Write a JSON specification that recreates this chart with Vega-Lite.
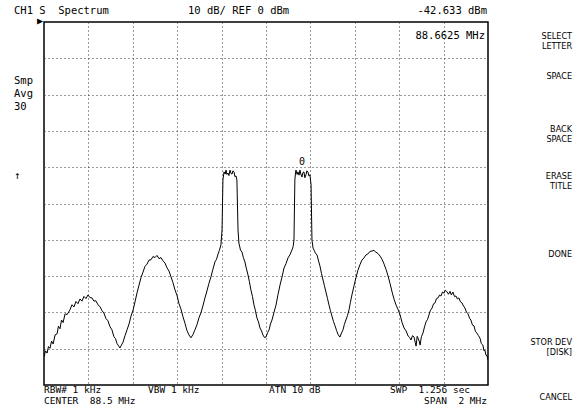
{
  "$schema": "https://vega.github.io/schema/vega-lite/v6.json",
  "width": 444,
  "height": 363,
  "autosize": "none",
  "padding": {"left": 44, "top": 22, "right": 91, "bottom": 29},
  "background": "#ffffff",
  "config": {
    "view": {"stroke": "#000000", "strokeWidth": 1.5},
    "axis": {"labels": false, "ticks": false, "domain": false, "title": null, "grid": true, "gridColor": "#333333", "gridDash": [1, 3], "gridWidth": 1, "gridOpacity": 1}
  },
  "datasets": {
    "trace": [
      {"f": 87.5, "dbm": -92.3}, {"f": 87.507, "dbm": -90.6}, {"f": 87.514, "dbm": -91.2}, {"f": 87.52, "dbm": -89.4}, {"f": 87.527, "dbm": -89.9}, {"f": 87.534, "dbm": -87.9}, {"f": 87.541, "dbm": -88.7},
      {"f": 87.55, "dbm": -86.2}, {"f": 87.559, "dbm": -85.9}, {"f": 87.565, "dbm": -83.8}, {"f": 87.572, "dbm": -84.5}, {"f": 87.579, "dbm": -82.1}, {"f": 87.586, "dbm": -82.8}, {"f": 87.595, "dbm": -80.4}, {"f": 87.604, "dbm": -80.6},
      {"f": 87.617, "dbm": -79.3}, {"f": 87.626, "dbm": -77.9}, {"f": 87.635, "dbm": -78.5}, {"f": 87.644, "dbm": -77.0}, {"f": 87.653, "dbm": -77.6}, {"f": 87.662, "dbm": -76.3}, {"f": 87.671, "dbm": -76.9},
      {"f": 87.68, "dbm": -75.6}, {"f": 87.689, "dbm": -76.2}, {"f": 87.698, "dbm": -75.2}, {"f": 87.707, "dbm": -75.9}, {"f": 87.716, "dbm": -76.0}, {"f": 87.725, "dbm": -76.9}, {"f": 87.734, "dbm": -76.8}, {"f": 87.743, "dbm": -77.9},
      {"f": 87.752, "dbm": -78.4}, {"f": 87.761, "dbm": -79.5}, {"f": 87.77, "dbm": -80.2}, {"f": 87.779, "dbm": -81.7}, {"f": 87.788, "dbm": -82.3}, {"f": 87.797, "dbm": -83.9}, {"f": 87.806, "dbm": -84.8}, {"f": 87.815, "dbm": -86.7},
      {"f": 87.822, "dbm": -87.2}, {"f": 87.829, "dbm": -88.6}, {"f": 87.836, "dbm": -89.2}, {"f": 87.842, "dbm": -89.8}, {"f": 87.849, "dbm": -89.0}, {"f": 87.856, "dbm": -88.2}, {"f": 87.865, "dbm": -86.4}, {"f": 87.874, "dbm": -84.8},
      {"f": 87.883, "dbm": -83.2}, {"f": 87.892, "dbm": -81.0}, {"f": 87.901, "dbm": -79.4}, {"f": 87.91, "dbm": -77.1}, {"f": 87.919, "dbm": -74.6}, {"f": 87.928, "dbm": -72.5}, {"f": 87.937, "dbm": -70.4}, {"f": 87.946, "dbm": -68.9},
      {"f": 87.955, "dbm": -67.3}, {"f": 87.964, "dbm": -66.7}, {"f": 87.973, "dbm": -65.6}, {"f": 87.982, "dbm": -65.5}, {"f": 87.991, "dbm": -64.6}, {"f": 88.0, "dbm": -64.9}, {"f": 88.009, "dbm": -64.3}, {"f": 88.018, "dbm": -65.2},
      {"f": 88.027, "dbm": -64.9}, {"f": 88.036, "dbm": -65.8}, {"f": 88.045, "dbm": -66.4}, {"f": 88.054, "dbm": -67.7}, {"f": 88.063, "dbm": -68.6}, {"f": 88.072, "dbm": -70.2}, {"f": 88.081, "dbm": -71.8}, {"f": 88.09, "dbm": -73.8},
      {"f": 88.099, "dbm": -75.3}, {"f": 88.108, "dbm": -77.6}, {"f": 88.117, "dbm": -79.1}, {"f": 88.126, "dbm": -81.2}, {"f": 88.135, "dbm": -83.0}, {"f": 88.144, "dbm": -85.0}, {"f": 88.153, "dbm": -86.2}, {"f": 88.162, "dbm": -87.0},
      {"f": 88.171, "dbm": -86.1}, {"f": 88.18, "dbm": -84.8}, {"f": 88.189, "dbm": -83.4}, {"f": 88.198, "dbm": -81.5}, {"f": 88.207, "dbm": -80.1}, {"f": 88.216, "dbm": -78.2}, {"f": 88.225, "dbm": -76.0}, {"f": 88.234, "dbm": -74.1},
      {"f": 88.243, "dbm": -72.0}, {"f": 88.252, "dbm": -70.2}, {"f": 88.261, "dbm": -68.1}, {"f": 88.27, "dbm": -66.1}, {"f": 88.277, "dbm": -65.4}, {"f": 88.284, "dbm": -63.9}, {"f": 88.29, "dbm": -62.9}, {"f": 88.297, "dbm": -61.4},
      {"f": 88.302, "dbm": -57.3}, {"f": 88.306, "dbm": -43.5}, {"f": 88.309, "dbm": -42.1}, {"f": 88.311, "dbm": -41.3}, {"f": 88.316, "dbm": -41.9}, {"f": 88.32, "dbm": -40.8}, {"f": 88.324, "dbm": -42.0},
      {"f": 88.329, "dbm": -41.6}, {"f": 88.333, "dbm": -42.3}, {"f": 88.338, "dbm": -40.8}, {"f": 88.342, "dbm": -41.7}, {"f": 88.347, "dbm": -41.9}, {"f": 88.351, "dbm": -41.0}, {"f": 88.356, "dbm": -41.3}, {"f": 88.36, "dbm": -42.6},
      {"f": 88.365, "dbm": -42.4}, {"f": 88.369, "dbm": -43.5}, {"f": 88.374, "dbm": -57.3}, {"f": 88.378, "dbm": -60.9}, {"f": 88.385, "dbm": -62.8},
      {"f": 88.392, "dbm": -63.4}, {"f": 88.398, "dbm": -64.9}, {"f": 88.405, "dbm": -66.1}, {"f": 88.412, "dbm": -68.0}, {"f": 88.419, "dbm": -69.7}, {"f": 88.425, "dbm": -71.5}, {"f": 88.432, "dbm": -73.8}, {"f": 88.439, "dbm": -75.6},
      {"f": 88.446, "dbm": -78.0}, {"f": 88.452, "dbm": -79.4}, {"f": 88.459, "dbm": -81.5}, {"f": 88.466, "dbm": -82.6}, {"f": 88.473, "dbm": -84.3}, {"f": 88.48, "dbm": -85.1}, {"f": 88.486, "dbm": -86.2}, {"f": 88.493, "dbm": -86.9},
      {"f": 88.5, "dbm": -86.8}, {"f": 88.507, "dbm": -85.6}, {"f": 88.514, "dbm": -84.8}, {"f": 88.52, "dbm": -83.2}, {"f": 88.527, "dbm": -82.1}, {"f": 88.536, "dbm": -80.0}, {"f": 88.545, "dbm": -78.0}, {"f": 88.554, "dbm": -75.1},
      {"f": 88.563, "dbm": -72.5}, {"f": 88.572, "dbm": -70.3}, {"f": 88.581, "dbm": -67.8}, {"f": 88.59, "dbm": -66.6}, {"f": 88.599, "dbm": -65.0}, {"f": 88.608, "dbm": -64.1}, {"f": 88.617, "dbm": -62.8}, {"f": 88.622, "dbm": -61.9},
      {"f": 88.626, "dbm": -60.1}, {"f": 88.63, "dbm": -43.5}, {"f": 88.633, "dbm": -41.6}, {"f": 88.635, "dbm": -40.8}, {"f": 88.64, "dbm": -42.0}, {"f": 88.644, "dbm": -41.3}, {"f": 88.649, "dbm": -42.2},
      {"f": 88.653, "dbm": -40.8}, {"f": 88.657, "dbm": -41.9}, {"f": 88.662, "dbm": -42.7}, {"f": 88.666, "dbm": -41.5}, {"f": 88.671, "dbm": -41.3}, {"f": 88.675, "dbm": -42.9}, {"f": 88.68, "dbm": -42.1}, {"f": 88.684, "dbm": -41.0},
      {"f": 88.689, "dbm": -41.3}, {"f": 88.693, "dbm": -42.4}, {"f": 88.698, "dbm": -42.1}, {"f": 88.703, "dbm": -44.9}, {"f": 88.707, "dbm": -60.1},
      {"f": 88.712, "dbm": -62.3}, {"f": 88.717, "dbm": -62.9}, {"f": 88.722, "dbm": -63.6}, {"f": 88.73, "dbm": -64.2}, {"f": 88.737, "dbm": -65.9}, {"f": 88.743, "dbm": -67.2}, {"f": 88.75, "dbm": -69.3}, {"f": 88.757, "dbm": -71.1},
      {"f": 88.763, "dbm": -72.6}, {"f": 88.77, "dbm": -74.4}, {"f": 88.777, "dbm": -76.2}, {"f": 88.784, "dbm": -78.0}, {"f": 88.79, "dbm": -79.5}, {"f": 88.797, "dbm": -81.0}, {"f": 88.804, "dbm": -82.5}, {"f": 88.811, "dbm": -83.7},
      {"f": 88.818, "dbm": -85.0}, {"f": 88.824, "dbm": -86.0}, {"f": 88.829, "dbm": -86.5}, {"f": 88.833, "dbm": -86.8}, {"f": 88.84, "dbm": -85.7}, {"f": 88.847, "dbm": -84.8}, {"f": 88.853, "dbm": -83.3}, {"f": 88.86, "dbm": -82.1},
      {"f": 88.867, "dbm": -80.9}, {"f": 88.874, "dbm": -79.3}, {"f": 88.88, "dbm": -77.3}, {"f": 88.887, "dbm": -75.2}, {"f": 88.896, "dbm": -72.8}, {"f": 88.905, "dbm": -70.5}, {"f": 88.914, "dbm": -68.4}, {"f": 88.923, "dbm": -66.9},
      {"f": 88.932, "dbm": -65.6}, {"f": 88.941, "dbm": -65.0}, {"f": 88.95, "dbm": -64.2}, {"f": 88.959, "dbm": -63.9}, {"f": 88.968, "dbm": -63.2}, {"f": 88.977, "dbm": -63.1}, {"f": 88.986, "dbm": -62.9}, {"f": 88.995, "dbm": -63.4},
      {"f": 89.005, "dbm": -63.8}, {"f": 89.014, "dbm": -64.5}, {"f": 89.023, "dbm": -65.4}, {"f": 89.032, "dbm": -66.7}, {"f": 89.041, "dbm": -68.2}, {"f": 89.05, "dbm": -70.0}, {"f": 89.059, "dbm": -72.1}, {"f": 89.068, "dbm": -74.4},
      {"f": 89.077, "dbm": -76.4}, {"f": 89.086, "dbm": -78.0}, {"f": 89.095, "dbm": -79.2}, {"f": 89.104, "dbm": -80.7}, {"f": 89.113, "dbm": -82.8}, {"f": 89.122, "dbm": -84.3}, {"f": 89.131, "dbm": -85.1}, {"f": 89.14, "dbm": -86.5},
      {"f": 89.147, "dbm": -86.9}, {"f": 89.153, "dbm": -87.6}, {"f": 89.16, "dbm": -86.4}, {"f": 89.167, "dbm": -86.8}, {"f": 89.172, "dbm": -88.2}, {"f": 89.176, "dbm": -89.3}, {"f": 89.181, "dbm": -86.6}, {"f": 89.185, "dbm": -87.1},
      {"f": 89.19, "dbm": -87.9}, {"f": 89.194, "dbm": -89.0}, {"f": 89.2, "dbm": -86.7}, {"f": 89.207, "dbm": -85.7}, {"f": 89.214, "dbm": -84.0}, {"f": 89.221, "dbm": -82.6}, {"f": 89.228, "dbm": -81.9}, {"f": 89.234, "dbm": -80.7},
      {"f": 89.241, "dbm": -79.4}, {"f": 89.248, "dbm": -78.8}, {"f": 89.255, "dbm": -77.6}, {"f": 89.261, "dbm": -77.4}, {"f": 89.268, "dbm": -76.2}, {"f": 89.275, "dbm": -76.0}, {"f": 89.282, "dbm": -75.2}, {"f": 89.288, "dbm": -75.5},
      {"f": 89.295, "dbm": -74.4}, {"f": 89.302, "dbm": -74.7}, {"f": 89.308, "dbm": -73.9}, {"f": 89.315, "dbm": -74.3}, {"f": 89.322, "dbm": -75.0}, {"f": 89.329, "dbm": -74.2}, {"f": 89.335, "dbm": -75.2}, {"f": 89.342, "dbm": -74.4},
      {"f": 89.349, "dbm": -75.6}, {"f": 89.356, "dbm": -75.5}, {"f": 89.362, "dbm": -76.3}, {"f": 89.369, "dbm": -76.0}, {"f": 89.376, "dbm": -77.1}, {"f": 89.383, "dbm": -77.4}, {"f": 89.39, "dbm": -78.3}, {"f": 89.396, "dbm": -78.8},
      {"f": 89.403, "dbm": -79.9}, {"f": 89.41, "dbm": -80.4}, {"f": 89.417, "dbm": -81.6}, {"f": 89.423, "dbm": -82.1}, {"f": 89.43, "dbm": -83.5}, {"f": 89.437, "dbm": -83.7}, {"f": 89.443, "dbm": -85.2}, {"f": 89.45, "dbm": -85.7},
      {"f": 89.457, "dbm": -86.4}, {"f": 89.464, "dbm": -87.1}, {"f": 89.47, "dbm": -88.6}, {"f": 89.477, "dbm": -89.0}, {"f": 89.482, "dbm": -90.6}, {"f": 89.486, "dbm": -90.4}, {"f": 89.491, "dbm": -91.8}, {"f": 89.496, "dbm": -92.0},
      {"f": 89.5, "dbm": -93.1}
    ],
    "leftText": [
      {"t": "CH1 S\u00a0\u00a0Spectrum", "f": 87.3649, "dbm": 3.0},
      {"t": "10 dB/ REF 0 dBm", "f": 88.1486, "dbm": 3.0},
      {"t": "Smp", "f": 87.3649, "dbm": -16.25},
      {"t": "Avg", "f": 87.3649, "dbm": -19.83},
      {"t": "30", "f": 87.3649, "dbm": -23.42},
      {"t": "↑", "f": 87.3649, "dbm": -42.42}
    ],
    "bottomLeft": [
      {"t": "RBW# 1 kHz", "f": 87.5, "dbm": -101.3},
      {"t": "VBW 1 kHz", "f": 87.9685, "dbm": -101.3},
      {"t": "ATN 10 dB", "f": 88.5135, "dbm": -101.3},
      {"t": "SWP\u00a0\u00a01.256 sec", "f": 89.0586, "dbm": -101.3},
      {"t": "CENTER\u00a0\u00a088.5 MHz", "f": 87.5, "dbm": -104.5}
    ],
    "rightText": [
      {"t": "-42.633 dBm", "f": 89.4955, "dbm": 3.0},
      {"t": "88.6625 MHz", "f": 89.4865, "dbm": -3.86}
    ],
    "bottomRight": [
      {"t": "SPAN\u00a0\u00a02 MHz", "f": 89.4955, "dbm": -104.5}
    ],
    "centerText": [
      {"t": "0", "f": 88.6625, "dbm": -38.6},
      {"t": "▶", "f": 87.482, "dbm": 0.3}
    ],
    "softkeys": [
      {"t": "SELECT\nLETTER", "f": 89.8784, "dbm": -3.86},
      {"t": "SPACE", "f": 89.8784, "dbm": -14.88},
      {"t": "BACK\nSPACE", "f": 89.8784, "dbm": -29.48},
      {"t": "ERASE\nTITLE", "f": 89.8784, "dbm": -42.42},
      {"t": "DONE", "f": 89.8784, "dbm": -63.91},
      {"t": "STOR DEV\n[DISK]", "f": 89.8784, "dbm": -88.15},
      {"t": "CANCEL", "f": 89.8784, "dbm": -103.31}
    ]
  },
  "layer": [
    {
      "data": {"name": "trace"},
      "mark": {"type": "line", "color": "#000000", "strokeWidth": 1, "clip": true},
      "encoding": {
        "x": {"field": "f", "type": "quantitative", "scale": {"domain": [87.5, 89.5], "nice": false, "zero": false}, "axis": {"values": [87.7, 87.9, 88.1, 88.3, 88.5, 88.7, 88.9, 89.1, 89.3]}},
        "y": {"field": "dbm", "type": "quantitative", "scale": {"domain": [-100, 0], "nice": false, "zero": false}, "axis": {"values": [-10, -20, -30, -40, -50, -60, -70, -80, -90]}}
      }
    },
    {
      "data": {"name": "leftText"},
      "mark": {"type": "text", "align": "left", "baseline": "middle", "font": "DejaVu Sans Mono", "fontSize": 10.5, "color": "#000000"},
      "encoding": {
        "x": {"field": "f", "type": "quantitative"},
        "y": {"field": "dbm", "type": "quantitative"},
        "text": {"field": "t"}
      }
    },
    {
      "data": {"name": "bottomLeft"},
      "mark": {"type": "text", "align": "left", "baseline": "middle", "font": "DejaVu Sans Mono", "fontSize": 9.5, "color": "#000000"},
      "encoding": {
        "x": {"field": "f", "type": "quantitative"},
        "y": {"field": "dbm", "type": "quantitative"},
        "text": {"field": "t"}
      }
    },
    {
      "data": {"name": "rightText"},
      "mark": {"type": "text", "align": "right", "baseline": "middle", "font": "DejaVu Sans Mono", "fontSize": 10.5, "color": "#000000"},
      "encoding": {
        "x": {"field": "f", "type": "quantitative"},
        "y": {"field": "dbm", "type": "quantitative"},
        "text": {"field": "t"}
      }
    },
    {
      "data": {"name": "bottomRight"},
      "mark": {"type": "text", "align": "right", "baseline": "middle", "font": "DejaVu Sans Mono", "fontSize": 9.5, "color": "#000000"},
      "encoding": {
        "x": {"field": "f", "type": "quantitative"},
        "y": {"field": "dbm", "type": "quantitative"},
        "text": {"field": "t"}
      }
    },
    {
      "data": {"name": "centerText"},
      "mark": {"type": "text", "align": "center", "baseline": "middle", "font": "DejaVu Sans Mono", "fontSize": 10, "color": "#000000"},
      "encoding": {
        "x": {"field": "f", "type": "quantitative"},
        "y": {"field": "dbm", "type": "quantitative"},
        "text": {"field": "t"}
      }
    },
    {
      "data": {"name": "softkeys"},
      "mark": {"type": "text", "align": "right", "baseline": "middle", "font": "DejaVu Sans Condensed", "fontSize": 9, "lineBreak": "\n", "lineHeight": 10, "color": "#000000"},
      "encoding": {
        "x": {"field": "f", "type": "quantitative"},
        "y": {"field": "dbm", "type": "quantitative"},
        "text": {"field": "t"}
      }
    }
  ]
}
